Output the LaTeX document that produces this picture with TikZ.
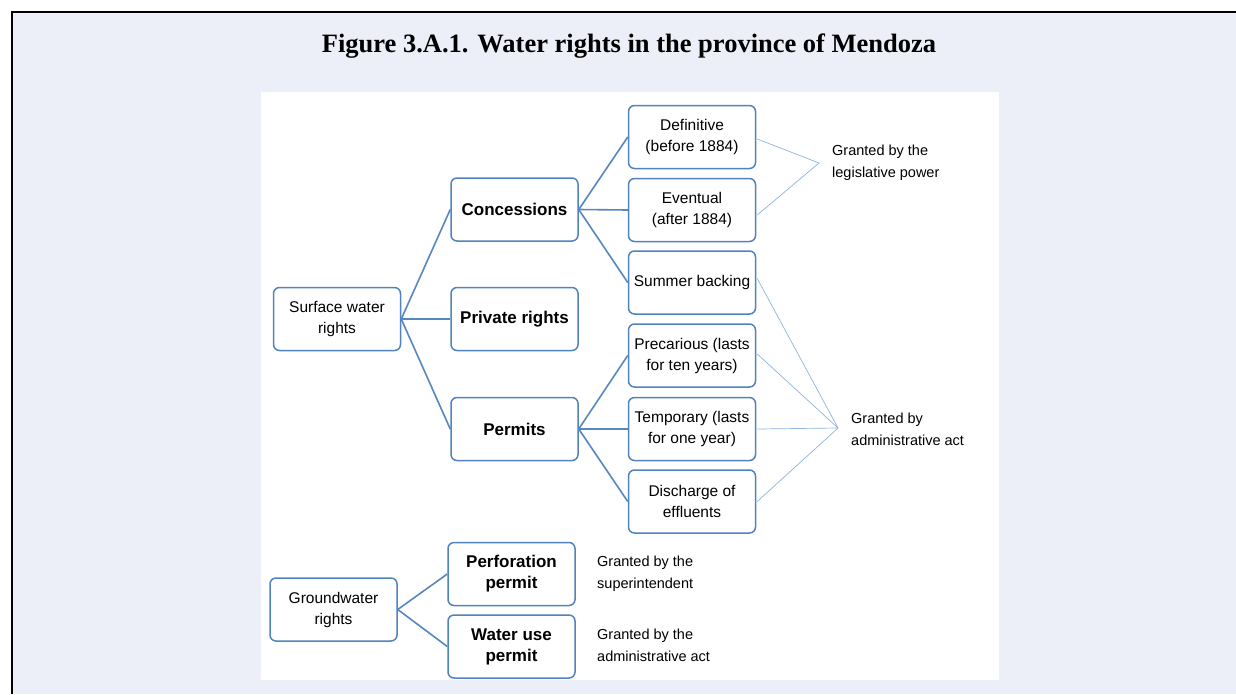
\documentclass[tikz,border=0pt]{standalone}
\usepackage{fontspec}
\setmainfont{Liberation Sans}
\newfontfamily\titlefont{Liberation Serif}
\definecolor{pagebg}{HTML}{ECEFF7}
\definecolor{boxline}{HTML}{5184BE}
\definecolor{linkline}{HTML}{5587C0}
\definecolor{thinline}{HTML}{8FB4E0}
\begin{document}
\begin{tikzpicture}[x=1pt,y=-1pt,
  box/.style={draw=boxline, line width=1.5pt, rounded corners=6pt, fill=white,
    minimum width=127pt, minimum height=63pt, inner sep=0pt, align=center,
    font=\fontsize{15.5}{21}\selectfont},
  boldbox/.style={box, font=\fontsize{17}{21}\selectfont\bfseries},
  link/.style={draw=linkline, line width=1.6pt},
  thin/.style={draw=thinline, line width=0.7pt},
  note/.style={anchor=west, align=left, inner sep=0pt,
    font=\fontsize{14.5}{22}\selectfont}]
  \useasboundingbox (0,0) rectangle (1236,694);
  % page background and frame
  \fill[white] (0,0) rectangle (1236,694);
  \fill[pagebg] (12,12) rectangle (1236,694);
  \draw[black, line width=2.4pt] (12,694) -- (12,12) -- (1236,12);
  % title
  \node (title) at (629,46) {\titlefont\bfseries\fontsize{26.5}{30}\selectfont Figure 3.A.1. Water rights in the province of Mendoza};
  % white panel
  \fill[white] (261,92) rectangle (999,680);

  % surface water
  \node[box] (sw) at (337,319) {Surface water\\rights};
  \node[boldbox] (conc) at (514.5,209.5) {Concessions};
  \node[boldbox] (priv) at (514.5,319) {Private rights};
  \node[boldbox] (perm) at (514.5,429) {Permits};
  \node[box] (def) at (692,137) {Definitive\\(before 1884)};
  \node[box] (eve) at (692,210) {Eventual\\(after 1884)};
  \node[box] (sum) at (692,282.5) {Summer backing};
  \node[box] (prec) at (692,355.5) {Precarious (lasts\\for ten years)};
  \node[box] (temp) at (692,429) {Temporary (lasts\\for one year)};
  \node[box] (dis) at (692,501.5) {Discharge of\\effluents};

  % groundwater
  \node[box] (gw) at (333.5,609.5) {Groundwater\\rights};
  \node[boldbox] (perf) at (511.5,574) {Perforation\\permit};
  \node[boldbox] (wu) at (511.5,646.5) {Water use\\permit};

  % tree connectors
  \draw[link] (sw.east) -- (conc.west);
  \draw[link] (sw.east) -- (priv.west);
  \draw[link] (sw.east) -- (perm.west);
  \draw[link] (conc.east) -- (def.west);
  \draw[link] (conc.east) -- (eve.west);
  \draw[link] (conc.east) -- (sum.west);
  \draw[link] (perm.east) -- (prec.west);
  \draw[link] (perm.east) -- (temp.west);
  \draw[link] (perm.east) -- (dis.west);
  \draw[link] (gw.east) -- (perf.west);
  \draw[link] (gw.east) -- (wu.west);

  % granting authorities
  \coordinate (legtip) at (819,163);
  \coordinate (admtip) at (838,428);
  \node[note] (leg) at (832,163) {Granted by the\\legislative power};
  \node[note] (adm) at (851,429) {Granted by\\administrative act};
  \node[note] (sup) at (597,574) {Granted by the\\superintendent};
  \node[note] (act) at (597,645) {Granted by the\\administrative act};

  \draw[thin] ([xshift=1pt,yshift=-2pt]def.east) -- (legtip);
  \draw[thin] ([xshift=1pt,yshift=-5pt]eve.east) -- (legtip);
  \draw[thin] ([xshift=1pt,yshift=4pt]sum.east) -- (admtip);
  \draw[thin] ([xshift=1pt,yshift=1.5pt]prec.east) -- (admtip);
  \draw[thin] ([xshift=1pt]temp.east) -- (admtip);
  \draw[thin] ([xshift=1pt]dis.east) -- (admtip);
\end{tikzpicture}
\end{document}
